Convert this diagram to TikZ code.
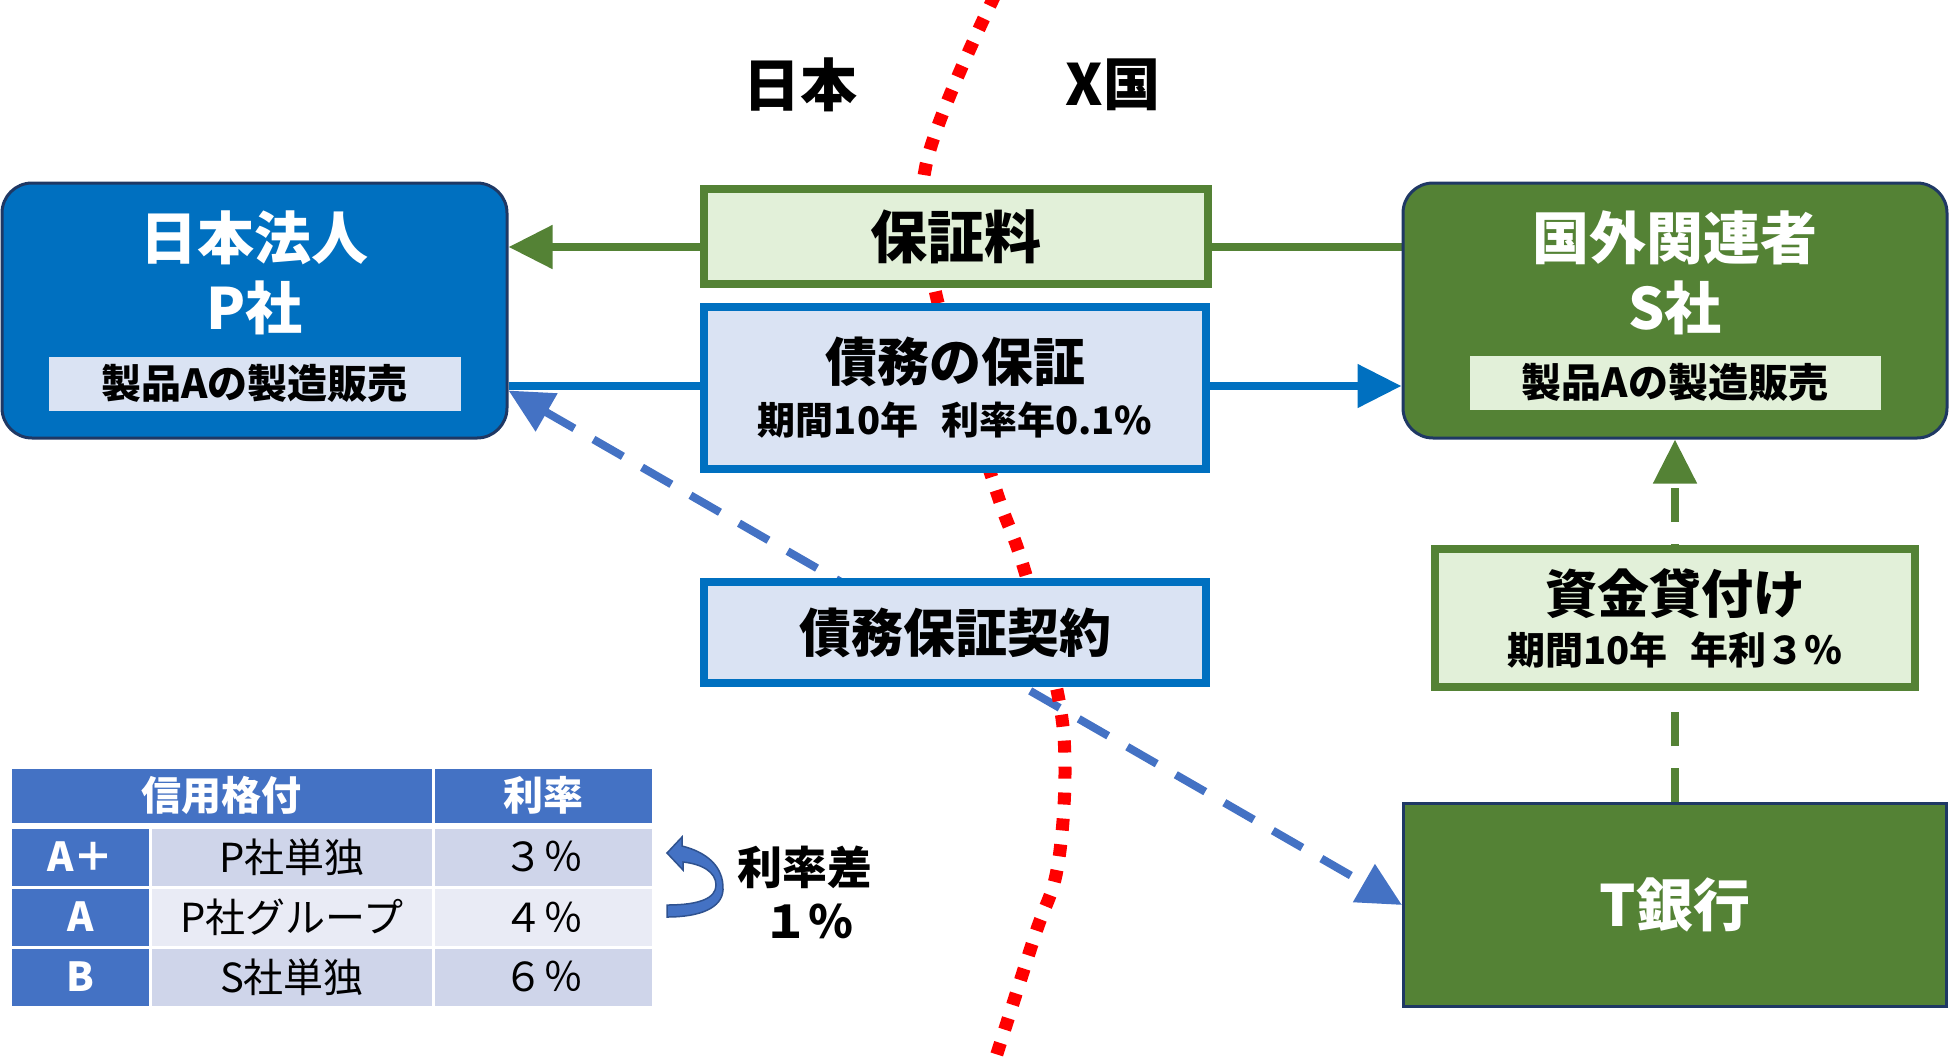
\documentclass[tikz,border=0pt]{standalone}
\usepackage{fontspec}
\setmainfont{Noto Sans CJK JP}
\usetikzlibrary{arrows.meta, positioning, calc, backgrounds}

\definecolor{pblue}{HTML}{0070C0}
\definecolor{lblue}{HTML}{DAE3F3}
\definecolor{sgreen}{HTML}{548235}
\definecolor{lgreen}{HTML}{E2F0D9}
\definecolor{navy}{HTML}{1F3864}
\definecolor{tblue}{HTML}{4472C4}
\definecolor{tbluedark}{HTML}{2F528F}
\definecolor{rowa}{HTML}{CFD5EA}
\definecolor{rowb}{HTML}{E9EBF5}

\begin{document}
\begin{tikzpicture}[
    x=0.5pt, y=-0.5pt,
    >={Triangle[length=22pt, width=21pt]},
    bigfont/.style = {font=\fontsize{28.5}{35}\selectfont\bfseries},
    midfont/.style = {font=\fontsize{26}{30}\selectfont\bfseries},
    subfont/.style = {font=\fontsize{19}{23}\selectfont\bfseries},
    corp/.style = {rectangle, rounded corners=15pt, draw=navy, line width=1.5pt, minimum width=252.5pt, minimum height=127.5pt, inner sep=0pt},
    tag/.style = {rectangle, minimum width=206pt, minimum height=27pt, inner sep=0pt, font=\fontsize{20}{24}\selectfont\bfseries},
    flow/.style = {rectangle, line width=4pt, inner sep=0pt, minimum width=251pt},
    cell/.style = {rectangle, draw=white, line width=1.5pt, inner sep=0pt, minimum height=30pt, font=\fontsize{20}{24}\selectfont},
    headcell/.style = {cell, fill=tblue, text=white, minimum height=28.5pt, font=\fontsize{20}{24}\selectfont\bfseries},
    rankcell/.style = {headcell, minimum width=70.25pt, minimum height=30pt},
    line/.style = {draw, line width=4pt, ->},
    dash_line/.style = {line, dash pattern=on 17pt off 11pt},
    frontier/.style = {draw=red, line width=6.5pt, dash pattern=on 6pt off 7pt}
]
\useasboundingbox (0,0) rectangle (1950,1056);

% Companies
\node [corp, fill=pblue] (pco) at (254.5,310.5) {};
\node [corp, fill=sgreen, minimum width=272pt] (sco) at (1675,310.5) {};
\node [bigfont, text=white, align=center] (ptitle) at (254.5,273) {日本法人\\P社};
\node [bigfont, text=white, align=center] (stitle) at (1675,273) {国外関連者\\S社};
\node [tag, fill=lblue] (ptag) at ($(pco.south)+(0,-56)$) {製品Aの製造販売};
\node [tag, fill=lgreen, minimum width=205.5pt] (stag) at ($(sco.south)+(0,-57)$) {製品Aの製造販売};

% Flows in the middle
\node [flow, draw=sgreen, fill=lgreen, minimum width=252pt, minimum height=47.5pt, bigfont] (fee) at (956,236.5) {保証料};
\node [flow, draw=pblue, fill=lblue, minimum height=81pt] (guar) at (955,388) {};
\node [midfont] (guartitle) at (955,362) {債務の保証};
\node [subfont] (guarsub) at (955,420) {期間10年\hspace{.6em}利率年0.1\%};
\node [flow, draw=pblue, fill=lblue, minimum height=50.5pt, midfont] (contract) at (955,632.5) {債務保証契約};

% Bank side
\node [flow, draw=sgreen, fill=lgreen, minimum width=240pt, minimum height=69pt] (loan) at (1675,618) {};
\node [midfont] (loantitle) at (1675,594) {資金貸付け};
\node [subfont] (loansub) at (1675,650) {期間10年\hspace{.6em}年利３％};
\node [rectangle, fill=sgreen, draw=navy, line width=1.5pt, minimum width=271.5pt, minimum height=101.5pt, bigfont, text=white] (bank) at (1675,905) {T銀行};

% Countries
\node [bigfont] (japan) at (800,85) {日本};
\node [bigfont] (xland) at (1113,85) {X国};

% Rating table
\node [headcell, minimum width=211.75pt] (hrank) at (221.75,795.5) {信用格付};
\node [headcell, minimum width=109.75pt] (hrate) at (543.25,795.5) {利率};
\node [rankcell] (r1) at (80.25,857) {A＋};
\node [cell, fill=rowa, minimum width=141.5pt] (n1) at (292,857) {P社単独};
\node [cell, fill=rowa, minimum width=109.75pt] (v1) at (543.25,857) {３％};
\node [rankcell] (r2) at (80.25,917) {A};
\node [cell, fill=rowb, minimum width=141.5pt] (n2) at (292,917) {P社グループ};
\node [cell, fill=rowb, minimum width=109.75pt] (v2) at (543.25,917) {４％};
\node [rankcell] (r3) at (80.25,977) {B};
\node [cell, fill=rowa, minimum width=141.5pt] (n3) at (292,977) {S社単独};
\node [cell, fill=rowa, minimum width=109.75pt] (v3) at (543.25,977) {６％};

% Spread
\filldraw [fill=tblue, draw=tbluedark, line width=0.75pt] (667,853) -- (682,837) -- (682,846)
    .. controls (706,852) and (724,866) .. (723,890) .. controls (722,908) and (700,917) .. (667,917)
    -- (667,905) .. controls (700,905) and (716,898) .. (716,885) .. controls (716,872) and (702,864) .. (683,862)
    -- (683,870) -- cycle;
\node [font=\fontsize{22.5}{27}\selectfont\bfseries] (gap) at (805,867) {利率差};
\node [font=\fontsize{22.5}{27}\selectfont\bfseries] (gapval) at (808,921) {１％};

% Edges
\begin{scope}[on background layer]
    \draw [line, sgreen] ([yshift=31.75pt]sco.west) -- ([yshift=31.75pt]pco.east);
    \draw [line, pblue] ([yshift=-37.75pt]pco.east) -- ([yshift=-37.75pt]sco.west);
    \draw [dash_line, tblue, <->] ([yshift=-40pt]pco.east) -- (bank.west);
    \draw [dash_line, sgreen] (bank.north) -- (sco.south);
    % border line
    \draw [frontier] plot[smooth, tension=0.6] coordinates {(995,-5) (926,165) (935,290) (995,487) (1022,562) (1057,690) (1065,773) (1057,870) (1035,935) (995,1060)};
\end{scope}

\end{tikzpicture}
\end{document}
